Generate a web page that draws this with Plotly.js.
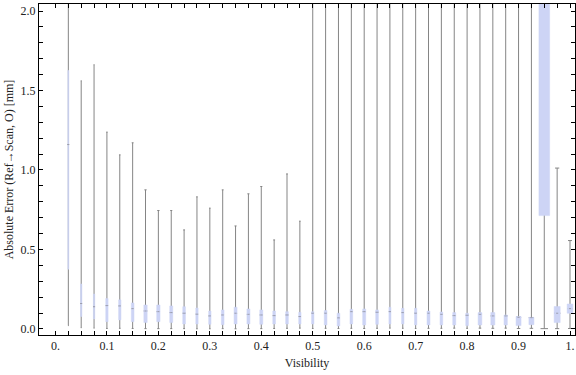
<!DOCTYPE html>
<html><head><meta charset="utf-8">
<script src="https://cdn.plot.ly/plotly-3.0.1.min.js"></script>
<style>html,body{margin:0;padding:0;background:#fff}#chart{width:576px;height:375px}</style>
</head><body><div id="chart"></div>
<script>
// Visibility bins (box positions)
const visibility = [0.025,0.05,0.075,0.1,0.125,0.15,0.175,0.2,0.225,0.25,
  0.275,0.3,0.325,0.35,0.375,0.4,0.425,0.45,0.475,0.5,
  0.525,0.55,0.575,0.6,0.625,0.65,0.675,0.7,0.725,0.75,
  0.775,0.8,0.825,0.85,0.875,0.9,0.925,0.95,0.975,1.0];
// Absolute error statistics [mm]
const lowerWhisker = [0.021,0.008,0.005,0.003,0.004,0.003,0.002,0.002,0.002,0.002,
  0.001,0.001,0.002,0.001,0.002,0.002,0.003,0.004,0.005,0.003,
  0.004,0.003,0.004,0.003,0.004,0.005,0.004,0.003,0.004,0.004,
  0.005,0.004,0.005,0.004,0.005,0.003,0.004,0.002,0.002,0.003];
const q1 = [0.376,0.078,0.063,0.046,0.057,0.046,0.040,0.046,0.040,0.031,
  0.031,0.029,0.027,0.031,0.031,0.029,0.031,0.031,0.031,0.031,
  0.025,0.019,0.031,0.025,0.029,0.031,0.031,0.025,0.025,0.025,
  0.025,0.021,0.025,0.025,0.025,0.021,0.027,0.713,0.040,0.099];
const median = [1.16,0.16,0.14,0.147,0.145,0.128,0.113,0.109,0.103,0.099,
  0.093,0.082,0.088,0.099,0.092,0.088,0.084,0.088,0.078,0.099,
  0.099,0.070,0.109,0.109,0.105,0.109,0.103,0.099,0.099,0.092,
  0.084,0.086,0.092,0.082,0.082,0.073,0.071,2.6,0.099,0.128];
const q3 = [1.626,0.283,0.220,0.191,0.183,0.164,0.151,0.151,0.145,0.140,
  0.132,0.113,0.120,0.137,0.126,0.120,0.113,0.109,0.105,0.109,
  0.116,0.099,0.124,0.126,0.120,0.137,0.130,0.130,0.113,0.107,
  0.103,0.099,0.103,0.103,0.088,0.078,0.073,4.2,0.141,0.157];
const upperWhisker = [3.1,1.561,1.662,1.238,1.095,1.171,0.875,0.745,0.745,0.623,
  0.831,0.760,0.875,0.648,0.850,0.896,0.560,0.975,0.678,3.2,
  3.3,3.1,3.4,3.2,3.5,3.1,3.3,3.2,3.4,3.1,
  3.3,3.2,3.5,3.3,3.1,3.2,3.4,6.5,1.012,0.556];
// box widths (relative, from picture)
const boxWidth = [0.0019,0.0026,0.0026,0.0045,0.0045,0.0052,0.0064,0.0064,0.0058,0.0052,
  0.0045,0.0045,0.0052,0.0058,0.0058,0.0058,0.0052,0.0052,0.0045,0.0045,
  0.0052,0.0052,0.0052,0.0058,0.0052,0.0039,0.0045,0.0045,0.0058,0.0052,
  0.0058,0.0052,0.0072,0.0078,0.0064,0.0097,0.0097,0.0208,0.0117,0.0111];
// Tick marks
const xTickVals = [0,0.025,0.05,0.075,0.1,0.125,0.15,0.175,0.2,0.225,0.25,
  0.275,0.3,0.325,0.35,0.375,0.4,0.425,0.45,0.475,0.5,
  0.525,0.55,0.575,0.6,0.625,0.65,0.675,0.7,0.725,0.75,
  0.775,0.8,0.825,0.85,0.875,0.9,0.925,0.95,0.975,1.0];
const xTickText = ['0.','','','','0.1','','','','0.2','','',
  '','0.3','','','','0.4','','','','0.5',
  '','','','0.6','','','','0.7','','',
  '','0.8','','','','0.9','','','','1.'];
const yTickVals = [0,0.1,0.2,0.3,0.4,0.5,0.6,0.7,0.8,0.9,1.0,
  1.1,1.2,1.3,1.4,1.5,1.6,1.7,1.8,1.9,2.0];
const yTickText = ['0.0','','','','','0.5','','','','','1.0',
  '','','','','1.5','','','','','2.0'];

const WHISK = '#858585', BOXC = '#cdd4f5', MED = 'rgba(140,140,150,0.75)';
const traces = [];
visibility.forEach((v, i) => {
  // whiskers (gray), degenerate box collapsed at the median
  traces.push({type:'box', x:[v], q1:[median[i]], median:[median[i]], q3:[median[i]],
    lowerfence:[lowerWhisker[i]], upperfence:[upperWhisker[i]],
    width: boxWidth[i], whiskerwidth: 0.7, boxpoints:false,
    line:{color:WHISK, width:1}, fillcolor:'rgba(0,0,0,0)', hoverinfo:'skip', showlegend:false});
});
visibility.forEach((v, i) => {
  // interquartile box (lavender)
  traces.push({type:'box', x:[v], q1:[q1[i]], median:[median[i]], q3:[q3[i]],
    lowerfence:[q1[i]], upperfence:[q3[i]],
    width: boxWidth[i], whiskerwidth: 0, boxpoints:false,
    line:{color:BOXC, width:0.5}, fillcolor:BOXC, hoverinfo:'skip', showlegend:false});
});
traces.push({type:'scatter', mode:'markers', x:visibility, y:median,
  marker:{symbol:'line-ew', size:1.5, line:{color:MED, width:1}},
  hoverinfo:'skip', showlegend:false, cliponaxis:true});

const font = {family:'"Liberation Serif", "DejaVu Serif", serif', size:12, color:'#222'};
const layout = {
  width:576, height:375,
  margin:{l:39, r:1, t:4, b:40, pad:0},
  paper_bgcolor:'#fff', plot_bgcolor:'#fff',
  boxmode:'overlay', showlegend:false, font:font,
  xaxis:{range:[-0.032,1.0097], tickmode:'array', tickvals:xTickVals, ticktext:xTickText,
    ticks:'inside', ticklen:4, tickwidth:1, tickcolor:'#000',
    showline:true, linecolor:'#000', linewidth:1, mirror:'ticks',
    showgrid:false, zeroline:false, tickfont:font,
    title:{text:'Visibility', font:font, standoff:6}},
  yaxis:{range:[-0.038,2.044], tickmode:'array', tickvals:yTickVals, ticktext:yTickText,
    ticks:'inside', ticklen:4, tickwidth:1, tickcolor:'#000',
    showline:true, linecolor:'#000', linewidth:1, mirror:'ticks',
    showgrid:false, zeroline:false, tickfont:font,
    title:{text:'Absolute Error (Ref\u2192Scan, O) [mm]', font:font, standoff:4}}
};
Plotly.newPlot('chart', traces, layout, {staticPlot:true, displayModeBar:false});
</script>
</body></html>
